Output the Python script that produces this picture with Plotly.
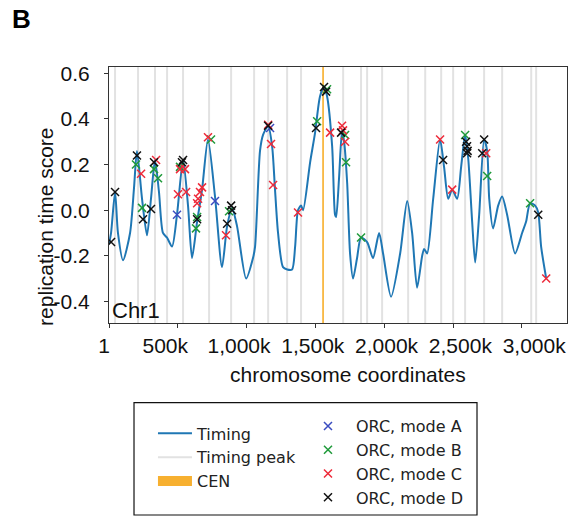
import plotly.graph_objects as go

# ---------------- data ----------------
# Timing curve (position in kb, replication time score)
TIMING_KB = [0, 15, 44, 65, 102, 153, 182, 203, 240, 276, 305, 334, 363, 392, 421, 458,
             494, 538, 574, 603, 640, 676, 719, 770, 821, 858, 894, 930, 996, 1046, 1061,
             1097, 1119, 1156, 1185, 1206, 1228, 1264, 1294, 1330, 1352, 1373, 1395, 1410,
             1461, 1497, 1533, 1562, 1584, 1621, 1642, 1650, 1671, 1693, 1708, 1730, 1751,
             1773, 1802, 1831, 1875, 1918, 1962, 1991, 2049, 2115, 2166, 2202, 2238, 2275,
             2289, 2311, 2355, 2405, 2434, 2464, 2493, 2529, 2558, 2587, 2609, 2638, 2660,
             2689, 2725, 2747, 2762, 2790, 2827, 2856, 2892, 2950, 3001, 3030, 3059, 3096,
             3118, 3139, 3176]
TIMING_VAL = [-0.15, -0.10, 0.08, -0.10, -0.22, -0.10, 0.10, 0.26, 0.05, -0.11, 0.05, 0.22,
              0.08, -0.10, -0.12, -0.16, -0.02, 0.22, 0.02, -0.21, -0.05, 0.09, 0.31, 0.06,
              -0.25, -0.07, 0.01, -0.07, -0.30, -0.21, -0.16, 0.26, 0.33, 0.37, 0.28, 0.09,
              -0.10, -0.25, -0.26, -0.26, -0.16, 0.00, 0.02, 0.00, 0.21, 0.34, 0.50, 0.54,
              0.50, 0.28, -0.02, -0.03, 0.14, 0.35, 0.30, 0.12, -0.19, -0.30, -0.21, -0.12,
              -0.14, -0.21, -0.10, -0.19, -0.38, -0.19, 0.04, -0.10, -0.34, -0.20, -0.17,
              -0.19, 0.05, 0.31, 0.19, 0.05, 0.09, 0.05, 0.19, 0.33, 0.23, -0.05, -0.23,
              -0.02, 0.31, 0.26, 0.05, -0.08, 0.02, 0.06, -0.02, -0.19, -0.10, -0.05, 0.03,
              0.02, -0.01, -0.16, -0.30]

# Timing peaks (kb)
PEAKS_KB = [44, 211, 334, 422, 538, 727, 887, 1054, 1156, 1294, 1395, 1701, 1831, 1875,
            1984, 2173, 2297, 2413, 2500, 2587, 2725, 2856, 3067, 3103]

# Centromere (kb)
CEN_START_KB = 1549
CEN_END_KB = 1561

# ORC sites, per mode (kb, score)
ORC_A_KB = [494, 770, 1170]
ORC_A_VAL = [-0.02, 0.04, 0.36]

ORC_B_KB = [196, 240, 327, 356, 516, 640, 632, 741, 872, 1512, 1584, 1715, 1722, 1831,
            2587, 2747, 3059]
ORC_B_VAL = [0.20, 0.01, 0.18, 0.14, 0.19, -0.03, -0.08, 0.31, -0.005, 0.39, 0.53, 0.33,
             0.21, -0.12, 0.33, 0.15, 0.03]

ORC_C_KB = [233, 342, 501, 560, 516, 552, 640, 647, 661, 676, 719, 850, 1156, 1177, 1192,
            1373, 1606, 1693, 1700, 1715, 2405, 2493, 2740, 3176]
ORC_C_VAL = [0.16, 0.22, 0.07, 0.08, 0.18, 0.18, 0.03, 0.05, 0.08, 0.10, 0.32, -0.11, 0.375,
             0.29, 0.11, -0.01, 0.34, 0.37, 0.35, 0.30, 0.31, 0.09, 0.25, -0.30]

ORC_D_KB = [15, 44, 203, 247, 305, 327, 530, 538, 640, 858, 887, 894, 1156, 1504, 1562,
            1577, 1686, 2427, 2594, 2601, 2605, 2601, 2725, 2711, 3118]
ORC_D_VAL = [-0.14, 0.08, 0.24, -0.04, 0.005, 0.21, 0.21, 0.22, -0.04, -0.06, 0.02, 0.0,
             0.37, 0.36, 0.54, 0.52, 0.34, 0.22, 0.30, 0.28, 0.26, 0.25, 0.31, 0.25, -0.02]

XTICK_VALS = [1, 500000, 1000000, 1500000, 2000000, 2500000, 3000000]
XTICK_TEXT = ["1", "500k", "1,000k", "1,500k", "2,000k", "2,500k", "3,000k"]
YTICK_VALS = [-0.4, -0.2, 0.0, 0.2, 0.4, 0.6]
YTICK_TEXT = ["-0.4", "-0.2", "0.0", "0.2", "0.4", "0.6"]

# ---------------- style ----------------
X_RANGE = [1, 3327000]
Y_RANGE = [-0.495, 0.628]
LABEL_SPREAD = 1.072
LABEL_PIVOT = 1772000
FONT = "Liberation Sans, Arial, sans-serif"
LEG_FONT = "DejaVu Sans, sans-serif"
CEN_COLOR = "#f7b030"


def kb(v):
    return [x * 1000 for x in v]


fig = go.Figure()

# timing peak lines
pk_x, pk_y = [], []
for p in PEAKS_KB:
    pk_x += [p * 1000, p * 1000, None]
    pk_y += [Y_RANGE[0], Y_RANGE[1], None]
fig.add_trace(go.Scatter(x=pk_x, y=pk_y, mode="lines", name="Timing peak",
                         line=dict(color="#e2e2e2", width=2), legend="legend",
                         legendrank=2, hoverinfo="skip"))

# centromere span
cs, ce = CEN_START_KB * 1000, CEN_END_KB * 1000
fig.add_trace(go.Scatter(x=[cs, ce, ce, cs, cs],
                         y=[Y_RANGE[0], Y_RANGE[0], Y_RANGE[1], Y_RANGE[1], Y_RANGE[0]],
                         mode="lines", fill="toself", fillcolor=CEN_COLOR,
                         line=dict(width=0, color=CEN_COLOR), showlegend=False,
                         hoverinfo="skip"))
# legend patch for the centromere
fig.add_trace(go.Scatter(x=[None], y=[None], mode="lines", name="CEN",
                         line=dict(width=10, color=CEN_COLOR), legend="legend",
                         legendrank=3))

# timing curve
fig.add_trace(go.Scatter(x=kb(TIMING_KB), y=TIMING_VAL, mode="lines", name="Timing",
                         line=dict(color="#1f77b4", width=2, shape="spline", smoothing=0.7),
                         legend="legend", legendrank=1))

for name, xs, ys, col in [("ORC, mode A", ORC_A_KB, ORC_A_VAL, "#3a4cc0"),
                          ("ORC, mode B", ORC_B_KB, ORC_B_VAL, "#1f9a3a"),
                          ("ORC, mode C", ORC_C_KB, ORC_C_VAL, "#ee2a3a"),
                          ("ORC, mode D", ORC_D_KB, ORC_D_VAL, "#111111")]:
    fig.add_trace(go.Scatter(x=kb(xs), y=ys, mode="markers", name=name, legend="legend2",
                             marker=dict(symbol="x-thin", size=8, color=col,
                                         line=dict(width=1.5, color=col))))

# invisible trace so the label axis is drawn
fig.add_trace(go.Scatter(x=[None], y=[None], xaxis="x2", showlegend=False, hoverinfo="skip"))

x2_range = [LABEL_PIVOT + (X_RANGE[0] - LABEL_PIVOT) / LABEL_SPREAD,
            LABEL_PIVOT + (X_RANGE[1] - LABEL_PIVOT) / LABEL_SPREAD]

fig.update_layout(
    width=571, height=519,
    margin=dict(l=109, r=4, t=67, b=185),
    paper_bgcolor="white", plot_bgcolor="white",
    font=dict(family=FONT, color="#111"),
    xaxis=dict(range=X_RANGE, tickvals=XTICK_VALS,
               ticktext=[XTICK_TEXT[0]] + [""] * (len(XTICK_TEXT) - 1),
               ticks="outside", ticklen=4, tickcolor="#333", showline=True, mirror=True,
               linecolor="#333", linewidth=1, showgrid=False, zeroline=False,
               tickfont=dict(size=21, family=FONT, color="#111"), ticklabelshift=-5),
    xaxis2=dict(overlaying="x", anchor="y", side="bottom", range=x2_range,
                tickvals=XTICK_VALS[1:], ticktext=XTICK_TEXT[1:], ticks="outside",
                ticklen=4, tickcolor="rgba(0,0,0,0)", showline=False, showgrid=False,
                zeroline=False, tickfont=dict(size=21, family=FONT, color="#111")),
    yaxis=dict(range=Y_RANGE, tickvals=YTICK_VALS, ticktext=YTICK_TEXT, ticks="outside",
               ticklen=4, tickcolor="#333", showline=True, mirror=True, linecolor="#333",
               linewidth=1, showgrid=False, zeroline=False, ticklabelstandoff=10,
               tickfont=dict(size=21, family=FONT, color="#111")),
    legend=dict(x=0.096, y=-0.365, xanchor="left", yanchor="top", itemwidth=34,
                font=dict(family=LEG_FONT, size=16, color="#222"),
                bgcolor="rgba(0,0,0,0)", borderwidth=0, tracegroupgap=0),
    legend2=dict(x=0.417, y=-0.336, xanchor="left", yanchor="top", itemwidth=46,
                 font=dict(family=LEG_FONT, size=16, color="#222"),
                 bgcolor="rgba(0,0,0,0)", borderwidth=0),
    shapes=[dict(type="rect", xref="paper", yref="paper", x0=0.0546, x1=0.8035,
                 y0=-0.311, y1=-0.75, line=dict(color="#111", width=1.2),
                 fillcolor="rgba(0,0,0,0)", layer="below")],
    annotations=[
        dict(text="<b>B</b>", xref="paper", yref="paper", x=-0.192, y=1.187,
             xanchor="center", yanchor="middle", showarrow=False,
             font=dict(size=26, family=FONT, color="#000")),
        dict(text="Chr1", xref="paper", yref="paper", x=0, y=0, xanchor="left",
             yanchor="bottom", xshift=1, yshift=-2, showarrow=False,
             font=dict(size=22, family=FONT, color="#111")),
        dict(text="replication time score", xref="paper", yref="paper", x=-0.14, y=0.375,
             xanchor="center", yanchor="middle", textangle=-90, showarrow=False,
             font=dict(size=21, family=FONT, color="#111")),
        dict(text="chromosome coordinates", xref="paper", yref="paper", x=0.522, y=-0.202,
             xanchor="center", yanchor="middle", showarrow=False,
             font=dict(size=21, family=FONT, color="#111")),
    ],
)

fig.write_html("out.html")
